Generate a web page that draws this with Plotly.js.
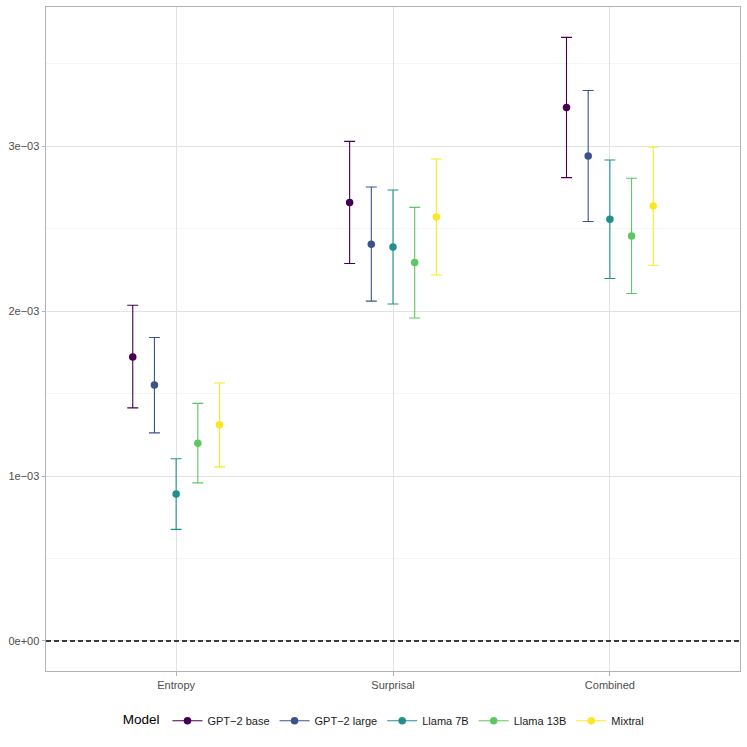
<!DOCTYPE html>
<html>
<head>
<meta charset="utf-8">
<script src="https://cdn.plot.ly/plotly-3.0.1.min.js"></script>
<style>
  html, body { margin: 0; padding: 0; background: #fff; }
  #chart { width: 747px; height: 747px; }
</style>
</head>
<body>
<div id="chart"></div>
<script>
// categories on the x axis
var categories = ['Entropy', 'Surprisal', 'Combined'];
var models = ['GPT\u22122 base', 'GPT\u22122 large', 'Llama 7B', 'Llama 13B', 'Mixtral'];
var colors = ['#440154', '#3B528B', '#21908C', '#5DC863', '#FDE725'];

// point estimates and interval ends, one array per model (Entropy, Surprisal, Combined)
var est_gpt2base  = [1.723e-3, 2.659e-3, 3.236e-3];
var lo_gpt2base   = [1.414e-3, 2.289e-3, 2.810e-3];
var hi_gpt2base   = [2.036e-3, 3.030e-3, 3.661e-3];

var est_gpt2large = [1.552e-3, 2.406e-3, 2.941e-3];
var lo_gpt2large  = [1.262e-3, 2.061e-3, 2.544e-3];
var hi_gpt2large  = [1.841e-3, 2.753e-3, 3.339e-3];

var est_llama7b   = [0.891e-3, 2.390e-3, 2.558e-3];
var lo_llama7b    = [0.677e-3, 2.044e-3, 2.198e-3];
var hi_llama7b    = [1.105e-3, 2.735e-3, 2.917e-3];

var est_llama13b  = [1.200e-3, 2.295e-3, 2.456e-3];
var lo_llama13b   = [0.959e-3, 1.959e-3, 2.107e-3];
var hi_llama13b   = [1.441e-3, 2.630e-3, 2.806e-3];

var est_mixtral   = [1.311e-3, 2.572e-3, 2.638e-3];
var lo_mixtral    = [1.056e-3, 2.220e-3, 2.279e-3];
var hi_mixtral    = [1.565e-3, 2.923e-3, 2.996e-3];

var yTickVals = [0, 1e-3, 2e-3, 3e-3];
var yTickText = ['0e+00', '1e\u221203', '2e\u221203', '3e\u221203'];

var est = [est_gpt2base, est_gpt2large, est_llama7b, est_llama13b, est_mixtral];
var lo  = [lo_gpt2base, lo_gpt2large, lo_llama7b, lo_llama13b, lo_mixtral];
var hi  = [hi_gpt2base, hi_gpt2large, hi_llama7b, hi_llama13b, hi_mixtral];

var data = [];
for (var m = 0; m < models.length; m++) {
  var xs = [], up = [], down = [];
  for (var c = 0; c < categories.length; c++) {
    xs.push(c + 1 + (m - 2) * 0.1); // dodge
    up.push(hi[m][c] - est[m][c]);
    down.push(est[m][c] - lo[m][c]);
  }
  data.push({
    x: xs,
    y: est[m],
    type: 'scatter',
    mode: 'markers',
    name: models[m],
    showlegend: false,
    marker: {color: colors[m], size: 7.5},
    error_y: {type: 'data', symmetric: false, array: up, arrayminus: down,
              color: colors[m], thickness: 1.1, width: 5.5}
  });
}
// legend keys (point with a line through it)
for (var k = 0; k < models.length; k++) {
  data.push({
    x: [null], y: [null],
    type: 'scatter',
    mode: 'lines+markers',
    name: models[k],
    line: {color: colors[k], width: 1.1},
    marker: {color: colors[k], size: 7.5}
  });
}

var layout = {
  width: 747,
  height: 747,
  margin: {l: 46, r: 7, t: 6.5, b: 76},
  paper_bgcolor: '#fff',
  plot_bgcolor: '#fff',
  font: {family: '"Liberation Sans", Arial, sans-serif', size: 11, color: '#4d4d4d'},
  xaxis: {
    range: [0.4, 3.6],
    tickmode: 'array',
    tickvals: [1, 2, 3],
    ticktext: categories,
    ticks: 'outside',
    ticklen: 3.5,
    tickcolor: '#b3b3b3',
    showgrid: true,
    gridcolor: '#e2e2e2',
    gridwidth: 1,
    zeroline: false,
    showline: true,
    mirror: true,
    linecolor: '#b3b3b3',
    linewidth: 1,
    tickfont: {size: 11, color: '#4d4d4d'}
  },
  yaxis: {
    range: [-0.182e-3, 3.845e-3],
    tickmode: 'array',
    tickvals: yTickVals,
    ticktext: yTickText,
    ticks: 'outside',
    ticklen: 3.5,
    tickcolor: '#b3b3b3',
    showgrid: true,
    gridcolor: '#e2e2e2',
    gridwidth: 1,
    minor: {tickmode: 'array', tickvals: [0.5e-3, 1.5e-3, 2.5e-3, 3.5e-3],
            showgrid: true, gridcolor: '#efefef', gridwidth: 0.6, ticks: ''},
    zeroline: false,
    showline: true,
    mirror: true,
    linecolor: '#b3b3b3',
    linewidth: 1,
    tickfont: {size: 11, color: '#4d4d4d'}
  },
  shapes: [{
    type: 'line', xref: 'paper', x0: 0, x1: 1, yref: 'y', y0: 0, y1: 0,
    line: {color: '#000', width: 1.5, dash: '5px,3px'}
  }],
  legend: {
    orientation: 'h',
    x: 0.488, xanchor: 'center',
    y: -0.075, yanchor: 'middle',
    title: {text: 'Model', side: 'left', font: {size: 13.5, color: '#000'}},
    font: {size: 11, color: '#1a1a1a'},
    itemwidth: 30,
    bgcolor: 'rgba(0,0,0,0)'
  },
  showlegend: true
};

Plotly.newPlot('chart', data, layout, {displayModeBar: false, staticPlot: true});
</script>
</body>
</html>
